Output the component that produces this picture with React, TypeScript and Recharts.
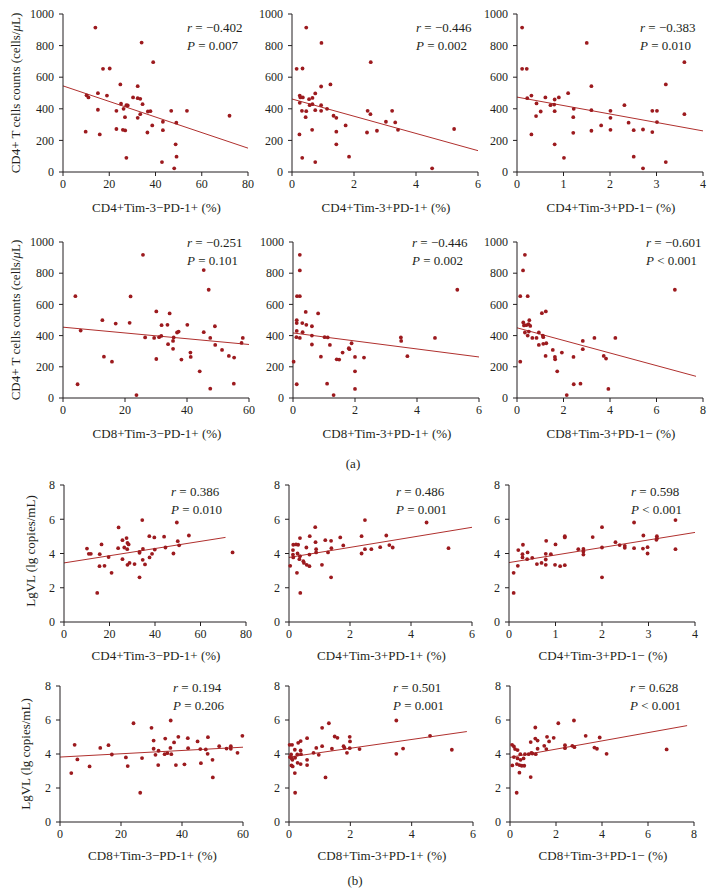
import React from 'react';
import { ScatterChart, Scatter, XAxis, YAxis, ReferenceLine } from 'recharts';

const SERIF = '"Liberation Serif", "Times New Roman", serif';
const DOT = '#9c1a1e';
const FIT = '#b0302e';
const INK = '#231f20';

// CD4+ T cell counts (cells/uL) against each subset, [x %, count]
const countVsCd4TnegPpos = [
  [14, 914], [34, 819], [39, 695], [17.3, 653], [20.2, 655], [24.8, 554], [32.3, 543], [15.1, 499],
  [10.2, 485], [11, 472], [19, 484], [30.3, 472], [32.3, 467], [33.4, 463], [34.4, 429], [25.1, 432],
  [27.4, 423], [28, 421], [26.2, 400], [15.1, 394], [23.1, 387], [36.7, 383], [37.8, 385], [46.8, 387],
  [53.6, 387], [33.4, 366], [32.3, 343], [26.8, 347], [72, 356], [43.2, 318], [49, 312], [38.6, 295],
  [23.1, 272], [25.9, 267], [26.9, 263], [43.2, 265], [9.8, 255], [36.5, 250], [15.9, 238], [48.7, 175],
  [27.4, 90], [49.1, 97], [42.8, 63], [48.1, 23],
];
const countVsCd4TposPpos = [
  [0.46, 914], [0.95, 817], [2.54, 695], [0.15, 653], [0.34, 655], [1.24, 554], [0.94, 541], [0.75, 497],
  [0.25, 484], [0.27, 472], [0.35, 472], [0.25, 438], [0.55, 461], [0.66, 469], [0.57, 423], [0.66, 429],
  [0.94, 423], [1.13, 400], [0.32, 387], [0.46, 385], [0.75, 391], [0.94, 387], [0.44, 347], [1.34, 356],
  [1.43, 343], [2.44, 387], [2.53, 366], [3.23, 387], [3.03, 318], [3.33, 314], [3.42, 267], [5.23, 272],
  [1.73, 295], [2.74, 261], [2.42, 250], [1.43, 255], [0.65, 267], [0.24, 238], [1.43, 175], [1.84, 97],
  [0.33, 90], [0.75, 63], [4.52, 23],
];
const countVsCd4TposPneg = [
  [0.11, 914], [1.5, 817], [3.6, 695], [0.11, 653], [0.21, 653], [1.6, 543], [3.2, 554], [1.1, 499],
  [0.31, 484], [0.22, 467], [0.61, 472], [0.9, 472], [0.81, 459], [0.42, 434], [0.72, 423], [0.8, 427],
  [2.31, 423], [1.22, 400], [1.6, 391], [0.51, 383], [0.81, 385], [2.01, 387], [2.91, 387], [3.01, 387],
  [0.41, 354], [1.21, 347], [2.01, 343], [3.6, 366], [3.01, 316], [2.4, 312], [1.81, 295], [2.01, 267],
  [2.51, 265], [2.71, 269], [1.6, 261], [1.21, 248], [2.91, 253], [0.31, 238], [0.81, 175], [1.01, 90],
  [2.51, 97], [3.2, 63], [2.71, 23],
];
const countVsCd8TnegPpos = [
  [25.8, 918], [45.4, 820], [47, 694], [4, 653], [21.8, 651], [30.1, 555], [34.4, 542], [12.7, 499],
  [17, 477], [21.5, 482], [33.7, 469], [31.8, 467], [40.1, 469], [49, 460], [5.7, 432], [37.3, 426],
  [36.8, 420], [45.4, 422], [26.5, 388], [29.4, 385], [31, 390], [31.7, 398], [35.7, 388], [47.5, 385],
  [35.5, 366], [33.9, 345], [49.1, 340], [35.5, 315], [41.1, 291], [41.2, 263], [51.3, 308], [53.5, 270],
  [55.2, 259], [13.2, 265], [15.8, 233], [30.1, 250], [38.2, 246], [44.1, 171], [4.7, 88], [55.1, 92],
  [47.5, 60], [23.7, 19], [58, 385], [57.6, 353],
];
const countVsCd8TposPpos = [
  [0.22, 918], [0.22, 818], [0.13, 653], [0.22, 653], [0.41, 552], [0.81, 542], [0.12, 499], [0.12, 480],
  [0.3, 480], [0.43, 469], [0.61, 460], [0.31, 422], [0.12, 430], [0.11, 390], [0.22, 385], [0.61, 400],
  [1.02, 390], [1.12, 388], [0.61, 343], [1.19, 340], [1.89, 351], [1.82, 313], [1.8, 319], [1.6, 291],
  [2, 263], [2.29, 259], [0.9, 265], [1.41, 248], [1.49, 246], [2, 171], [3.48, 388], [3.49, 366],
  [4.58, 385], [3.69, 268], [5.3, 694], [0.02, 233], [0.12, 88], [1.1, 92], [2, 58], [1.31, 19],
];
const countVsCd8TposPneg = [
  [0.34, 918], [0.26, 818], [0.14, 653], [0.46, 653], [1.07, 544], [1.24, 555], [0.27, 484], [0.53, 499],
  [0.4, 467], [0.5, 473], [0.57, 462], [0.3, 465], [0.34, 420], [0.51, 426], [0.46, 400], [0.94, 420],
  [0.66, 385], [0.84, 385], [1.13, 390], [1.11, 400], [0.94, 340], [1.13, 347], [1.26, 351], [1.23, 270],
  [1.54, 308], [1.63, 263], [1.64, 248], [1.93, 291], [1.73, 171], [2.43, 263], [2.83, 366], [2.83, 313],
  [3.33, 385], [4.23, 385], [3.73, 270], [3.83, 253], [6.79, 694], [0.14, 233], [2.44, 88], [2.73, 92],
  [3.93, 58], [2.14, 19],
];

// LgVL (lg copies/mL) against each subset, [x %, lgVL]
const vlVsCd4TnegPpos = [
  [34.4, 5.95], [49.6, 5.81], [24, 5.52], [37.5, 5.01], [39.7, 4.94], [44, 4.98], [54.9, 5.05], [27.5, 4.9],
  [25.7, 4.78], [27.9, 4.62], [28.4, 4.53], [50, 4.72], [16.5, 4.53], [10.1, 4.29], [23.8, 4.31], [26.5, 4.35],
  [27.8, 4.25], [44.6, 4.35], [50.6, 4.48], [39.9, 4.23], [34.7, 4.27], [10.9, 3.98], [11.8, 3.98], [15.7, 3.96],
  [33.2, 4.1], [33.2, 4.04], [38.7, 3.98], [48.1, 4], [74.1, 4.06], [19.6, 3.79], [37.6, 3.77], [25.7, 3.67],
  [34.6, 3.63], [28.8, 3.45], [31, 3.38], [35.6, 3.36], [27.9, 3.34], [15.6, 3.26], [17.8, 3.28], [20.9, 2.87],
  [33.2, 2.61], [14.6, 1.7],
];
const vlVsCd4TposPpos = [
  [2.49, 5.95], [4.51, 5.81], [0.86, 5.54], [0.68, 5.01], [1.68, 4.94], [2.38, 5.01], [3.19, 5.05], [0.36, 4.9],
  [1.19, 4.78], [1.38, 4.74], [0.87, 4.66], [0.14, 4.51], [0.23, 4.53], [0.3, 4.51], [1.78, 4.47], [0.13, 4.2],
  [0.57, 4.35], [1.39, 4.31], [0.89, 4.25], [2.7, 4.25], [2.49, 4.25], [2.99, 4.37], [3.29, 4.49], [3.4, 4.35],
  [5.23, 4.31], [1.28, 4.06], [0.89, 4.06], [2.38, 4], [0.13, 3.94], [0.28, 4], [0.36, 3.84], [0.67, 3.94],
  [0.14, 3.77], [0.34, 3.67], [0.47, 3.55], [0.49, 3.45], [0.58, 3.34], [0.67, 3.26], [0.04, 3.28], [1.08, 3.34],
  [0.26, 2.87], [1.38, 2.61], [0.37, 1.7],
];
const vlVsCd4TposPneg = [
  [3.58, 5.95], [2.69, 5.81], [2, 5.54], [2.89, 5.05], [1.2, 5.01], [1.2, 4.94], [1.8, 4.96], [3.18, 5.01],
  [3.18, 4.88], [3.17, 4.8], [0.8, 4.74], [2.29, 4.66], [1, 4.53], [0.3, 4.51], [0.2, 4.2], [2.38, 4.49],
  [2.49, 4.45], [2.49, 4.33], [2, 4.35], [2.69, 4.31], [2.98, 4.37], [2.88, 4.29], [3.58, 4.25], [1.49, 4.25],
  [1.6, 4.27], [1.6, 4.12], [1.6, 3.94], [0.4, 4.06], [0.29, 3.96], [0.79, 3.98], [0.9, 3.96], [2.98, 4],
  [0.29, 3.77], [0.5, 3.75], [0.39, 3.67], [0.79, 3.65], [0.6, 3.38], [0.7, 3.45], [0.79, 3.34], [0.99, 3.34],
  [1.1, 3.26], [0.19, 3.28], [0.1, 2.87], [2, 2.61], [0.1, 1.7], [1.2, 3.32],
];
const vlVsCd8TnegPpos = [
  [36.3, 5.97], [24.1, 5.81], [30, 5.54], [38.8, 5.01], [34.5, 4.91], [41.9, 4.93], [48.5, 4.99], [30.7, 4.79],
  [37.4, 4.68], [45.1, 4.74], [4.8, 4.54], [15.9, 4.52], [13.2, 4.36], [36.2, 4.36], [42, 4.34], [30.7, 4.31],
  [32.3, 4.19], [46, 4.29], [47.8, 4.27], [52.2, 4.46], [54.6, 4.32], [56, 4.46], [56, 4.31], [58.2, 4.07],
  [17, 3.97], [31.3, 3.95], [34.3, 3.99], [35.2, 4.05], [36.5, 3.99], [48.4, 4.01], [21.6, 3.8], [26.9, 3.76],
  [5.7, 3.68], [50, 3.66], [46.2, 3.46], [9.7, 3.27], [22.2, 3.29], [32.2, 3.35], [38, 3.35], [40.8, 3.39],
  [3.7, 2.88], [50.1, 2.62], [26.3, 1.72], [59.8, 5.07],
];
const vlVsCd8TposPpos = [
  [3.5, 5.97], [1.3, 5.81], [1.08, 5.54], [1.49, 5.03], [1.58, 4.95], [4.6, 5.07], [1.98, 5.01], [1.99, 4.74],
  [0.59, 4.93], [0.38, 4.76], [0.3, 4.66], [0.02, 4.54], [0.1, 4.54], [1.08, 4.46], [1.78, 4.46], [0.89, 4.36],
  [1.81, 4.36], [1.98, 4.34], [0.19, 4.25], [1.4, 4.31], [0.38, 4.21], [2.3, 4.29], [3.72, 4.32], [5.31, 4.25],
  [1.89, 4.07], [0.8, 4.07], [0.07, 3.97], [0.27, 3.97], [0.39, 3.99], [0.97, 3.95], [3.5, 4.01], [0.03, 3.82],
  [0.09, 3.74], [0.2, 3.78], [0.11, 3.66], [0.59, 3.66], [0.28, 3.48], [0.38, 3.41], [0.08, 3.33], [0.12, 3.27],
  [0.59, 3.35], [0.19, 2.88], [1.19, 2.62], [0.2, 1.72],
];
const vlVsCd8TposPneg = [
  [2.78, 5.97], [2.1, 5.81], [1.1, 5.56], [3.29, 5.07], [1.61, 5.01], [3.9, 4.97], [1.9, 4.95], [1.1, 4.91],
  [1.2, 4.79], [1.7, 4.74], [0.9, 4.7], [2.39, 4.52], [1.49, 4.48], [2.71, 4.48], [0.09, 4.54], [0.17, 4.44],
  [2.39, 4.34], [2.8, 4.4], [3.67, 4.38], [3.78, 4.31], [0.22, 4.29], [0.33, 4.23], [1.58, 4.29], [1.2, 4.31],
  [6.81, 4.27], [0.93, 4.07], [0.97, 4.03], [1.12, 3.99], [0.45, 3.99], [0.65, 3.99], [0.81, 3.99], [4.2, 4.01],
  [0.17, 3.82], [0.33, 3.74], [0.46, 3.66], [0.59, 3.74], [0.3, 3.41], [0.41, 3.35], [0.51, 3.31], [0.62, 3.31],
  [0.1, 3.33], [0.41, 2.9], [0.9, 2.64], [0.29, 1.72],
];

// regression lines: [x0, y0, x1, y1]
const fitLines = [
  [0, 545, 80, 151], [0, 462, 6, 135], [0, 474, 4, 260],
  [0, 454, 60, 343], [0, 417, 6, 263], [0, 450, 7.7, 139],
  [0, 3.45, 71, 4.94], [0, 3.77, 6, 5.53], [0, 3.47, 4, 5.23],
  [0, 3.82, 60, 4.4], [0, 3.82, 5.8, 5.32], [0, 3.8, 7.7, 5.67],
];

const stats = [
  ['−0.402', '=', '0.007'], ['−0.446', '=', '0.002'], ['−0.383', '=', '0.010'],
  ['−0.251', '=', '0.101'], ['−0.446', '=', '0.002'], ['−0.601', '<', '0.001'],
  ['0.386', '=', '0.010'], ['0.486', '=', '0.001'], ['0.598', '<', '0.001'],
  ['0.194', '=', '0.206'], ['0.501', '=', '0.001'], ['0.628', '<', '0.001'],
];

const cd4Titles = ['CD4+Tim-3−PD-1+ (%)', 'CD4+Tim-3+PD-1+ (%)', 'CD4+Tim-3+PD-1− (%)'];
const cd8Titles = ['CD8+Tim-3−PD-1+ (%)', 'CD8+Tim-3+PD-1+ (%)', 'CD8+Tim-3+PD-1− (%)'];
const countTicks = [0, 200, 400, 600, 800, 1000];
const vlTicks = [0, 2, 4, 6, 8];

const panels = [
  { d: countVsCd4TnegPpos, x0: 63, x1: 248, top: 14, bot: 172, xt: [0, 20, 40, 60, 80], yt: countTicks, title: cd4Titles[0], sx: 187, sy: 28 },
  { d: countVsCd4TposPpos, x0: 292, x1: 478, top: 14, bot: 172, xt: [0, 2, 4, 6], yt: countTicks, title: cd4Titles[1], sx: 416, sy: 28 },
  { d: countVsCd4TposPneg, x0: 517, x1: 703, top: 14, bot: 172, xt: [0, 1, 2, 3, 4], yt: countTicks, title: cd4Titles[2], sx: 640, sy: 28 },
  { d: countVsCd8TnegPpos, x0: 63, x1: 249, top: 242, bot: 398, xt: [0, 20, 40, 60], yt: countTicks, title: cd8Titles[0], sx: 187, sy: 243 },
  { d: countVsCd8TposPpos, x0: 293, x1: 479, top: 242, bot: 398, xt: [0, 2, 4, 6], yt: countTicks, title: cd8Titles[1], sx: 412, sy: 243 },
  { d: countVsCd8TposPneg, x0: 517, x1: 703, top: 242, bot: 398, xt: [0, 2, 4, 6, 8], yt: countTicks, title: cd8Titles[2], sx: 646, sy: 243 },
  { d: vlVsCd4TnegPpos, x0: 64, x1: 246, top: 485, bot: 622, xt: [0, 20, 40, 60, 80], yt: vlTicks, title: cd4Titles[0], sx: 171, sy: 492 },
  { d: vlVsCd4TposPpos, x0: 289, x1: 472, top: 485, bot: 622, xt: [0, 2, 4, 6], yt: vlTicks, title: cd4Titles[1], sx: 396, sy: 492 },
  { d: vlVsCd4TposPneg, x0: 509, x1: 695, top: 485, bot: 622, xt: [0, 1, 2, 3, 4], yt: vlTicks, title: cd4Titles[2], sx: 631, sy: 492 },
  { d: vlVsCd8TnegPpos, x0: 60, x1: 243, top: 686, bot: 822, xt: [0, 20, 40, 60], yt: vlTicks, title: cd8Titles[0], sx: 173, sy: 688 },
  { d: vlVsCd8TposPpos, x0: 289, x1: 473, top: 686, bot: 822, xt: [0, 2, 4, 6], yt: vlTicks, title: cd8Titles[1], sx: 393, sy: 688 },
  { d: vlVsCd8TposPneg, x0: 510, x1: 694, top: 686, bot: 822, xt: [0, 2, 4, 6, 8], yt: vlTicks, title: cd8Titles[2], sx: 630, sy: 688 },
];

const YW = 40;
const MT = 8;
const MR = 10;
const XH = 26;

const tickStyle = { fontFamily: SERIF, fontSize: 12, fill: INK };

const renderDot = (p: any) => <circle cx={p.cx} cy={p.cy} r={1.9} fill={DOT} />;

function Panel({ cfg, fit }: { cfg: any; fit: number[] }) {
  const plotW = cfg.x1 - cfg.x0;
  const plotH = cfg.bot - cfg.top;
  const data = cfg.d.map(([x, y]: number[]) => ({ x, y }));
  const xt = cfg.xt;
  const yt = cfg.yt;
  return (
    <div style={{ position: 'absolute', left: cfg.x0 - YW, top: cfg.top - MT }}>
      <ScatterChart width={YW + plotW + MR} height={MT + plotH + XH} margin={{ top: MT, right: MR, bottom: 0, left: 0 }}>
        <XAxis
          type="number"
          dataKey="x"
          domain={[0, xt[xt.length - 1]]}
          ticks={xt}
          interval={0}
          height={XH}
          tickSize={4}
          tickMargin={3}
          stroke={INK}
          tick={tickStyle}
        />
        <YAxis
          type="number"
          dataKey="y"
          domain={[0, yt[yt.length - 1]]}
          ticks={yt}
          interval={0}
          width={YW}
          tickSize={4}
          tickMargin={5}
          stroke={INK}
          tick={tickStyle}
        />
        <ReferenceLine
          segment={[{ x: fit[0], y: fit[1] }, { x: fit[2], y: fit[3] }]}
          stroke={FIT}
          strokeWidth={1}
        />
        <Scatter data={data} fill={DOT} shape={renderDot} isAnimationActive={false} />
      </ScatterChart>
    </div>
  );
}

const textBase: React.CSSProperties = {
  position: 'absolute',
  fontFamily: SERIF,
  fontSize: 13,
  color: INK,
  whiteSpace: 'nowrap',
  lineHeight: '15px',
};

function Stat({ x, y, s }: { x: number; y: number; s: string[] }) {
  return (
    <>
      <div style={{ ...textBase, left: x, top: y - 8 }}>
        <i>r</i> = {s[0]}
      </div>
      <div style={{ ...textBase, left: x, top: y + 10 }}>
        <i>P</i> {s[1]} {s[2]}
      </div>
    </>
  );
}

function XTitle({ cx, cy, text }: { cx: number; cy: number; text: string }) {
  return (
    <div style={{ ...textBase, left: cx, top: cy, transform: 'translate(-50%, -50%)' }}>{text}</div>
  );
}

function YTitle({ cx, cy, children }: { cx: number; cy: number; children: React.ReactNode }) {
  return (
    <div style={{ ...textBase, left: cx, top: cy, transform: 'translate(-50%, -50%) rotate(-90deg)' }}>
      {children}
    </div>
  );
}

const titleOffsets = [35, 35, 35, 35, 35, 35, 33, 33, 33, 33, 33, 33];

export default function App() {
  const countLabel = (
    <>
      CD4+ T cells counts (cells/<i>μ</i>L)
    </>
  );
  return (
    <div style={{ position: 'absolute', left: 0, top: 0, width: 715, height: 895, background: '#fff' }}>
      {panels.map((p, i) => (
        <Panel key={i} cfg={p} fit={fitLines[i]} />
      ))}
      {panels.map((p, i) => (
        <Stat key={'s' + i} x={p.sx} y={p.sy} s={stats[i]} />
      ))}
      {panels.map((p, i) => (
        <XTitle key={'t' + i} cx={(p.x0 + p.x1) / 2 + 1} cy={p.bot + titleOffsets[i]} text={p.title} />
      ))}
      <YTitle cx={15} cy={93}>{countLabel}</YTitle>
      <YTitle cx={15} cy={320}>{countLabel}</YTitle>
      <YTitle cx={30} cy={551}>LgVL (lg copies/mL)</YTitle>
      <YTitle cx={25} cy={754}>LgVL (lg copies/mL)</YTitle>
      <XTitle cx={353} cy={463} text="(a)" />
      <XTitle cx={355} cy={880} text="(b)" />
    </div>
  );
}
